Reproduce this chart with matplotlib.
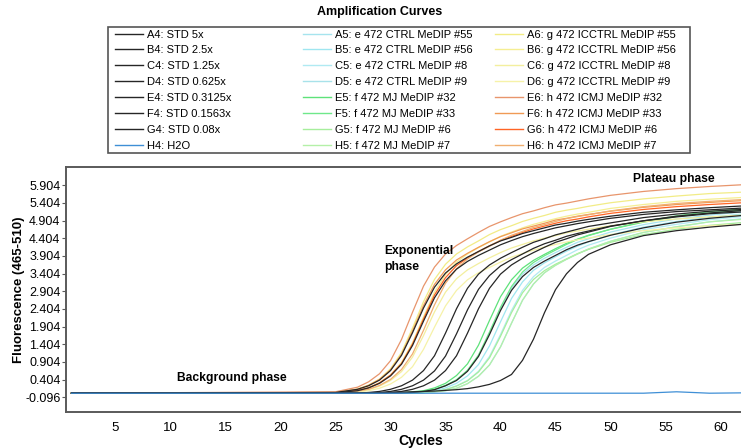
import matplotlib
matplotlib.use("Agg")
import matplotlib.pyplot as plt
from matplotlib.lines import Line2D
from matplotlib.patches import Rectangle

plt.rcParams['font.family'] = ['Liberation Sans', 'DejaVu Sans']

# cycle grid shared by all curves
cycles = [1, 25, 27, 28, 29, 30, 31, 32, 33, 34, 35, 36, 37, 38, 39, 40, 41, 42, 43, 44,
          45, 46, 47, 48, 50, 53, 56, 59, 62, 65]

# standards (black)
a4 = [0.02, 0.04, 0.13, 0.23, 0.39, 0.66, 1.09, 1.73, 2.43, 3.02, 3.42, 3.68, 3.87, 4.03, 4.19,
      4.33, 4.43, 4.54, 4.62, 4.70, 4.78, 4.83, 4.89, 4.94, 5.03, 5.14, 5.21, 5.27, 5.32, 5.34]
b4 = [0.02, 0.03, 0.09, 0.17, 0.30, 0.51, 0.84, 1.37, 2.06, 2.72, 3.20, 3.53, 3.75, 3.92, 4.07,
      4.22, 4.34, 4.45, 4.54, 4.62, 4.70, 4.76, 4.82, 4.87, 4.97, 5.08, 5.16, 5.21, 5.26, 5.29]
c4 = [0.02, 0.02, 0.02, 0.04, 0.07, 0.13, 0.23, 0.39, 0.66, 1.08, 1.72, 2.41, 2.99, 3.39, 3.65,
      3.84, 4.00, 4.15, 4.29, 4.39, 4.50, 4.58, 4.66, 4.74, 4.84, 4.99, 5.09, 5.17, 5.22, 5.27]
d4 = [0.02, 0.02, 0.02, 0.02, 0.04, 0.07, 0.13, 0.23, 0.39, 0.65, 1.07, 1.70, 2.38, 2.96, 3.35,
      3.62, 3.80, 3.96, 4.12, 4.25, 4.35, 4.46, 4.54, 4.61, 4.75, 4.90, 5.01, 5.10, 5.15, 5.21]
e4 = [0.02, 0.02, 0.02, 0.02, 0.02, 0.04, 0.07, 0.13, 0.23, 0.39, 0.66, 1.08, 1.72, 2.41, 2.99,
      3.39, 3.65, 3.84, 4.00, 4.15, 4.29, 4.39, 4.50, 4.58, 4.74, 4.90, 5.03, 5.12, 5.19, 5.24]
f4 = [0.02, 0.02, 0.02, 0.02, 0.02, 0.02, 0.02, 0.04, 0.07, 0.12, 0.23, 0.38, 0.64, 1.06, 1.68,
      2.36, 2.93, 3.32, 3.58, 3.76, 3.92, 4.08, 4.21, 4.31, 4.49, 4.70, 4.86, 4.97, 5.05, 5.11]
g4 = [0.02, 0.02, 0.02, 0.03, 0.03, 0.04, 0.05, 0.06, 0.07, 0.08, 0.10, 0.12, 0.15, 0.20, 0.27,
      0.38, 0.55, 0.95, 1.55, 2.30, 2.95, 3.40, 3.72, 3.95, 4.22, 4.48, 4.62, 4.72, 4.80, 4.86]
h4 = [0.02, 0.02, 0.02, 0.02, 0.02, 0.02, 0.02, 0.02, 0.02, 0.02, 0.02, 0.02, 0.02, 0.02, 0.02,
      0.02, 0.02, 0.02, 0.02, 0.02, 0.02, 0.02, 0.02, 0.02, 0.02, 0.02, 0.06, 0.02, 0.03, 0.03]

# e 472 CTRL (cyan)
a5 = [0.02, 0.02, 0.02, 0.02, 0.02, 0.02, 0.02, 0.04, 0.07, 0.13, 0.23, 0.39, 0.66, 1.08, 1.72,
      2.41, 2.99, 3.39, 3.65, 3.84, 4.00, 4.15, 4.29, 4.39, 4.58, 4.79, 4.95, 5.06, 5.15, 5.20]
b5 = [0.02, 0.02, 0.02, 0.02, 0.02, 0.02, 0.02, 0.03, 0.06, 0.09, 0.17, 0.30, 0.51, 0.83, 1.36,
      2.04, 2.70, 3.17, 3.50, 3.71, 3.88, 4.04, 4.18, 4.30, 4.50, 4.72, 4.88, 5.00, 5.09, 5.15]
c5 = [0.02, 0.02, 0.02, 0.02, 0.02, 0.02, 0.02, 0.02, 0.04, 0.07, 0.12, 0.23, 0.38, 0.64, 1.06,
      1.68, 2.36, 2.93, 3.32, 3.58, 3.76, 3.92, 4.08, 4.21, 4.41, 4.65, 4.80, 4.93, 5.02, 5.09]
d5 = [0.02, 0.02, 0.02, 0.02, 0.02, 0.02, 0.02, 0.02, 0.03, 0.06, 0.09, 0.16, 0.29, 0.50, 0.82,
      1.33, 2.00, 2.65, 3.11, 3.43, 3.64, 3.81, 3.96, 4.10, 4.32, 4.57, 4.73, 4.87, 4.96, 5.03]

# f 472 MJ (green)
e5 = [0.02, 0.02, 0.02, 0.02, 0.02, 0.02, 0.03, 0.06, 0.09, 0.17, 0.30, 0.52, 0.85, 1.38, 2.08,
      2.75, 3.23, 3.56, 3.78, 3.95, 4.11, 4.26, 4.38, 4.49, 4.66, 4.86, 5.02, 5.12, 5.20, 5.26]
f5 = [0.02, 0.02, 0.02, 0.02, 0.02, 0.02, 0.02, 0.04, 0.07, 0.13, 0.24, 0.40, 0.67, 1.10, 1.75,
      2.45, 3.04, 3.45, 3.72, 3.91, 4.07, 4.23, 4.37, 4.48, 4.66, 4.88, 5.04, 5.16, 5.24, 5.30]
g5 = [0.02, 0.02, 0.02, 0.02, 0.02, 0.02, 0.02, 0.02, 0.04, 0.07, 0.12, 0.22, 0.37, 0.62, 1.02,
      1.63, 2.30, 2.86, 3.24, 3.49, 3.67, 3.82, 3.97, 4.09, 4.29, 4.51, 4.66, 4.77, 4.85, 4.91]
h5 = [0.02, 0.02, 0.02, 0.02, 0.02, 0.02, 0.02, 0.02, 0.03, 0.06, 0.09, 0.16, 0.29, 0.50, 0.82,
      1.33, 2.00, 2.65, 3.11, 3.43, 3.64, 3.81, 3.96, 4.10, 4.32, 4.57, 4.73, 4.87, 4.94, 5.00]

# g 472 ICCTRL (yellow)
a6 = [0.02, 0.04, 0.14, 0.25, 0.42, 0.71, 1.17, 1.86, 2.61, 3.24, 3.67, 3.96, 4.16, 4.33, 4.51,
      4.65, 4.76, 4.88, 4.97, 5.05, 5.14, 5.20, 5.25, 5.31, 5.41, 5.52, 5.60, 5.67, 5.71, 5.74]
b6 = [0.02, 0.03, 0.10, 0.18, 0.32, 0.54, 0.89, 1.45, 2.18, 2.88, 3.38, 3.73, 3.96, 4.14, 4.30,
      4.46, 4.58, 4.70, 4.80, 4.88, 4.96, 5.03, 5.09, 5.14, 5.25, 5.36, 5.45, 5.51, 5.56, 5.59]
c6 = [0.02, 0.02, 0.07, 0.12, 0.22, 0.38, 0.63, 1.04, 1.65, 2.32, 2.88, 3.26, 3.51, 3.69, 3.85,
      4.00, 4.13, 4.23, 4.33, 4.41, 4.48, 4.56, 4.61, 4.66, 4.76, 4.87, 4.95, 5.01, 5.06, 5.09]
d6 = [0.02, 0.02, 0.05, 0.09, 0.16, 0.28, 0.47, 0.77, 1.26, 1.89, 2.49, 2.93, 3.23, 3.43, 3.58,
      3.73, 3.87, 3.97, 4.07, 4.16, 4.23, 4.30, 4.36, 4.41, 4.51, 4.62, 4.70, 4.76, 4.80, 4.84]

# h 472 ICMJ (orange)
e6 = [0.02, 0.06, 0.19, 0.34, 0.57, 0.94, 1.54, 2.31, 3.05, 3.59, 3.96, 4.20, 4.39, 4.57, 4.74,
      4.87, 4.99, 5.10, 5.18, 5.27, 5.35, 5.40, 5.46, 5.52, 5.62, 5.73, 5.81, 5.87, 5.92, 5.94]
f6 = [0.02, 0.04, 0.13, 0.24, 0.41, 0.68, 1.12, 1.78, 2.50, 3.10, 3.51, 3.79, 3.98, 4.15, 4.31,
      4.45, 4.56, 4.67, 4.75, 4.83, 4.92, 4.97, 5.03, 5.08, 5.17, 5.28, 5.36, 5.42, 5.47, 5.49]
g6 = [0.02, 0.03, 0.10, 0.17, 0.31, 0.53, 0.86, 1.41, 2.12, 2.80, 3.29, 3.63, 3.85, 4.03, 4.19,
      4.34, 4.46, 4.57, 4.67, 4.75, 4.83, 4.90, 4.95, 5.01, 5.11, 5.22, 5.30, 5.36, 5.41, 5.44]
h6 = [0.02, 0.02, 0.08, 0.13, 0.24, 0.41, 0.69, 1.13, 1.80, 2.52, 3.13, 3.54, 3.82, 4.02, 4.18,
      4.35, 4.49, 4.60, 4.71, 4.79, 4.88, 4.96, 5.02, 5.07, 5.18, 5.30, 5.39, 5.45, 5.50, 5.54]

col1_labels = ["A4: STD 5x", "B4: STD 2.5x", "C4: STD 1.25x", "D4: STD 0.625x",
               "E4: STD 0.3125x", "F4: STD 0.1563x", "G4: STD 0.08x", "H4: H2O"]
col2_labels = ["A5: e 472 CTRL MeDIP #55", "B5: e 472 CTRL MeDIP #56", "C5: e 472 CTRL MeDIP #8",
               "D5: e 472 CTRL MeDIP #9", "E5: f 472 MJ MeDIP #32", "F5: f 472 MJ MeDIP #33",
               "G5: f 472 MJ MeDIP #6", "H5: f 472 MJ MeDIP #7"]
col3_labels = ["A6: g 472 ICCTRL MeDIP #55", "B6: g 472 ICCTRL MeDIP #56", "C6: g 472 ICCTRL MeDIP #8",
               "D6: g 472 ICCTRL MeDIP #9", "E6: h 472 ICMJ MeDIP #32", "F6: h 472 ICMJ MeDIP #33",
               "G6: h 472 ICMJ MeDIP #6", "H6: h 472 ICMJ MeDIP #7"]
col1_series = [a4, b4, c4, d4, e4, f4, g4, h4]
col2_series = [a5, b5, c5, d5, e5, f5, g5, h5]
col3_series = [a6, b6, c6, d6, e6, f6, g6, h6]
col1_colors = ["#262626"] * 7 + ["#3f8fd6"]
col2_colors = ["#a6e4ee", "#9fe6f0", "#b0eaf2", "#a8e2ea", "#5ee27a", "#6fe88a", "#a6ee9c", "#b4f0a8"]
col3_colors = ["#f2ec86", "#f5ee92", "#f3ef9e", "#f6f2a8", "#e8956c", "#f09a55", "#ff6424", "#f0ae70"]

ytick_vals = [-0.096, 0.404, 0.904, 1.404, 1.904, 2.404, 2.904, 3.404, 3.904, 4.404, 4.904, 5.404, 5.904]
xtick_vals = [5, 10, 15, 20, 25, 30, 35, 40, 45, 50, 55, 60]

W, H = 741, 448
fig = plt.figure(figsize=(W / 100, H / 100), dpi=100)
ax = fig.add_axes([66 / W, 1 - 412 / H, 709.5 / W, 245 / H])

# light groups first, standards on top, H2O last
for ys, c in zip(col2_series + col3_series, col2_colors + col3_colors):
    ax.plot(cycles, ys, color=c, lw=0.9)
for ys, c in zip(col1_series[:7], col1_colors[:7]):
    ax.plot(cycles, ys, color=c, lw=0.9)
ax.plot(cycles, h4, color=col1_colors[7], lw=0.9)

ax.set_xlim(0.5, 65)
ax.set_ylim(-0.512, 6.422)
ax.set_yticks(ytick_vals)
ax.set_yticklabels(["%.3f" % v for v in ytick_vals])
ax.set_xticks(xtick_vals)
for s in ax.spines.values():
    s.set_color("#5a5a5a")
    s.set_linewidth(1.4)
ax.tick_params(axis="y", length=3, width=0.8, color="#5a5a5a", labelsize=9, pad=1)
ax.tick_params(axis="x", length=0, labelsize=9.5, pad=7)

ax.set_ylabel("Fluorescence (465-510)", fontsize=9.5, fontweight="bold", labelpad=0)
ax.set_xlabel("Cycles", fontsize=10, fontweight="bold", labelpad=0)

ax.text(15.6, 0.45, "Background phase", fontsize=8.7, fontweight="bold", ha="center", va="center")
ax.text(29.4, 3.82, "Exponential\nphase", fontsize=8.7, fontweight="bold", ha="left", va="center",
        linespacing=1.35)
ax.text(55.8, 6.07, "Plateau phase", fontsize=8.7, fontweight="bold", ha="center", va="center")

fig.text(380 / W, 1 - 12 / H, "Amplification Curves", fontsize=9, fontweight="bold",
         ha="center", va="center")

# legend box with three columns
fig.patches.append(Rectangle((108 / W, 1 - 153 / H), 582 / W, 126 / H, transform=fig.transFigure,
                             fill=False, edgecolor="#555555", lw=1.2))
for x0, labs, cols in [(115, col1_labels, col1_colors), (303, col2_labels, col2_colors),
                       (495, col3_labels, col3_colors)]:
    hs = [Line2D([], [], color=c, lw=1.0) for c in cols]
    fig.legend(hs, labs, loc="upper left", bbox_to_anchor=(x0 / W, 1 - 29.5 / H),
               frameon=False, fontsize=8, handlelength=2.5, handletextpad=0.4,
               labelspacing=0.53, borderpad=0, borderaxespad=0)

fig.savefig("out.png", dpi=100)
